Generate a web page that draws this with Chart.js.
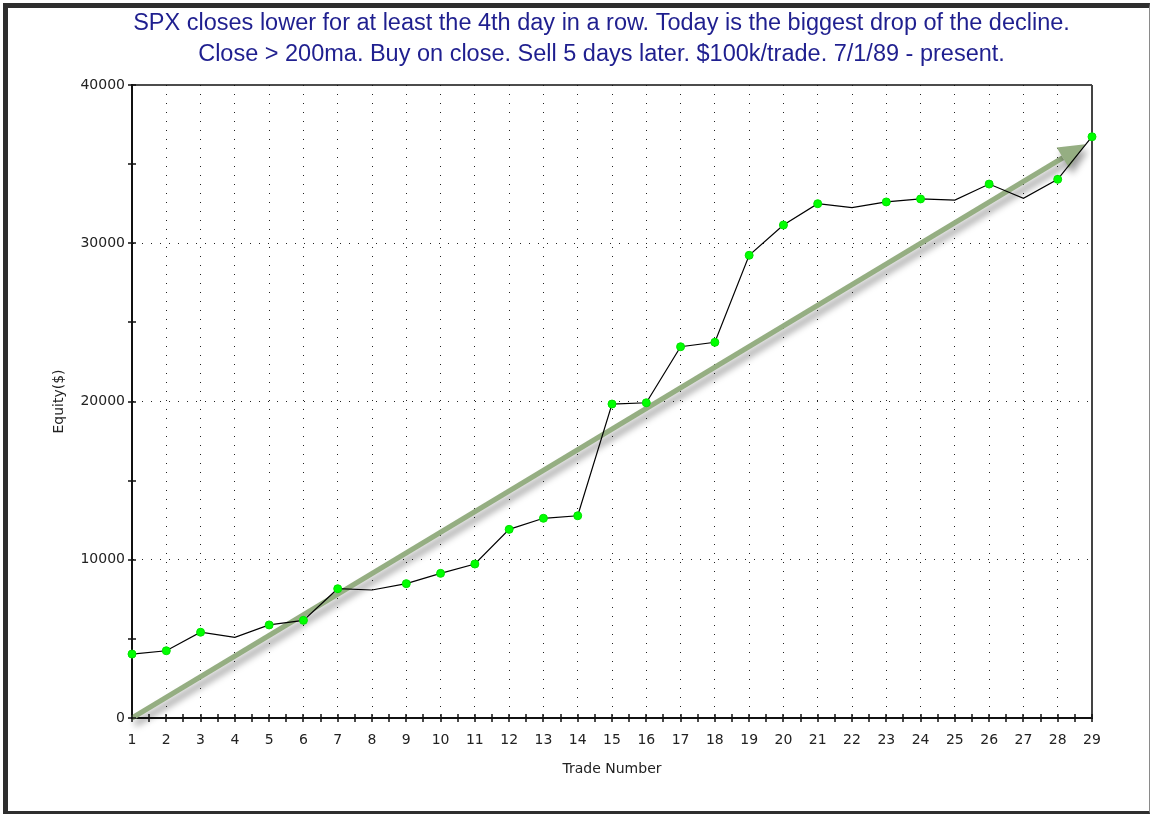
<!DOCTYPE html>
<html>
<head>
<meta charset="utf-8">
<title>SPX equity curve</title>
<script src="https://cdn.jsdelivr.net/npm/chart.js@4.4.1/dist/chart.umd.min.js"></script>
<style>
    html, body { margin: 0; padding: 0; background: #fff; }
    #wrap { position: relative; width: 1151px; height: 814px; overflow: hidden; background: #fff; }
    #chartEquity { position: absolute; left: 0; top: 0; }
    #frame {
        position: absolute; left: 3px; top: 3px; width: 1147px; height: 811px;
        box-sizing: border-box; pointer-events: none;
        border-left: 5px solid #2e2e2e; border-top: 5px solid #2e2e2e;
        border-bottom: 3px solid #2e2e2e; border-right: 1px solid #8a8a8a;
    }
</style>
</head>
<body>
<div id="wrap">
    <canvas id="chartEquity" width="1151" height="814"></canvas>
    <div id="frame"></div>
</div>
<script>
// chart data
var tradeNumbers = [1, 2, 3, 4, 5, 6, 7, 8, 9, 10, 11, 12, 13, 14, 15, 16, 17, 18, 19, 20, 21, 22, 23, 24, 25, 26, 27, 28, 29];
var equity = [4040, 4250, 5420, 5100, 5880, 6170, 8170, 8090, 8490, 9140,
    9730, 11920, 12620, 12780, 19840, 19920, 23460, 23740, 29240, 31150,
    32500, 32250, 32610, 32800, 32730, 33740, 32840, 34040, 36730];
// green trend arrow: start and tip (trade number, equity)
var arrowX = [1, 28.8];
var arrowY = [0, 36250];

var titleLines = [
    'SPX closes lower for at least the 4th day in a row. Today is the biggest drop of the decline.',
    'Close > 200ma. Buy on close. Sell 5 days later. $100k/trade. 7/1/89 - present.'
];

Chart.defaults.font.family = "'DejaVu Sans', Verdana, sans-serif";
Chart.defaults.font.size = 14;
Chart.defaults.color = '#222';

// arrow with a soft shadow, under the equity line
var trendArrow = {
    id: 'trendArrow',
    beforeDatasetsDraw: function (chart) {
        var ctx = chart.ctx;
        var xs = chart.scales.x, ys = chart.scales.y;
        var x0 = xs.getPixelForValue(arrowX[0]), y0 = ys.getPixelForValue(arrowY[0]);
        var x1 = xs.getPixelForValue(arrowX[1]), y1 = ys.getPixelForValue(arrowY[1]);
        var ang = Math.atan2(y1 - y0, x1 - x0);
        var headLen = 26, headW = 12;
        var bx = x1 - headLen * Math.cos(ang), by = y1 - headLen * Math.sin(ang);

        ctx.save();
        ctx.shadowColor = 'rgba(0,0,0,0.4)';
        ctx.shadowBlur = 7;
        ctx.shadowOffsetX = 3;
        ctx.shadowOffsetY = 6;
        ctx.strokeStyle = '#95ae82';
        ctx.fillStyle = '#95ae82';
        ctx.lineWidth = 5;
        ctx.beginPath();
        ctx.moveTo(x0, y0);
        ctx.lineTo(bx, by);
        ctx.stroke();
        ctx.beginPath();
        ctx.moveTo(x1, y1);
        ctx.lineTo(bx + headW * Math.sin(ang), by - headW * Math.cos(ang));
        ctx.lineTo(bx - headW * Math.sin(ang), by + headW * Math.cos(ang));
        ctx.closePath();
        ctx.fill();
        ctx.restore();
    }
};

// top/right frame of the plot and tick marks that cross the axes
var plotFrame = {
    id: 'plotFrame',
    beforeDatasetsDraw: function (chart) {
        var ctx = chart.ctx, a = chart.chartArea;
        var xs = chart.scales.x, ys = chart.scales.y;
        ctx.save();
        ctx.strokeStyle = '#111';
        ctx.lineWidth = 1.5;
        ctx.beginPath();
        ctx.moveTo(a.left, a.top);
        ctx.lineTo(a.right, a.top);
        ctx.stroke();
        ctx.strokeStyle = '#444';
        ctx.lineWidth = 2;
        ctx.beginPath();
        ctx.moveTo(a.right, a.top);
        ctx.lineTo(a.right, a.bottom);
        ctx.stroke();

        ctx.strokeStyle = '#111';
        ctx.lineWidth = 1.5;
        ctx.beginPath();
        xs.ticks.forEach(function (t) {
            var px = Math.round(xs.getPixelForValue(t.value));
            ctx.moveTo(px, a.bottom - 4);
            ctx.lineTo(px, a.bottom + 4);
        });
        ys.ticks.forEach(function (t) {
            var py = Math.round(ys.getPixelForValue(t.value));
            ctx.moveTo(a.left - 4, py);
            ctx.lineTo(a.left + 4, py);
        });
        ctx.stroke();
        ctx.restore();
    }
};

var ctx = document.getElementById('chartEquity').getContext('2d');
var chartEquity = new Chart(ctx, {
    type: 'line',
    data: {
        datasets: [{
            label: 'Equity',
            data: tradeNumbers.map(function (t, i) { return { x: t, y: equity[i] }; }),
            borderColor: '#000',
            borderWidth: 1.2,
            tension: 0,
            clip: false,
            pointBackgroundColor: '#00ff00',
            pointBorderColor: '#00e000',
            pointBorderWidth: 1,
            // dots only on winning trades
            pointRadius: function (c) {
                var i = c.dataIndex;
                var prev = i > 0 ? equity[i - 1] : 0;
                return equity[i] > prev ? 4 : 0;
            },
            pointHoverRadius: 4
        }]
    },
    options: {
        responsive: false,
        animation: false,
        layout: { padding: { left: 52, right: 0, top: 0, bottom: 0 } },
        plugins: {
            legend: { display: false },
            tooltip: { enabled: false },
            title: {
                display: true,
                text: titleLines,
                color: '#1f1f8f',
                font: { family: "'Liberation Sans', Arial, sans-serif", size: 23.5, weight: 'normal', lineHeight: '31px' },
                padding: { top: 8, bottom: 15 }
            }
        },
        scales: {
            x: {
                type: 'linear',
                min: 1,
                max: 29,
                afterFit: function (s) { s.height = 96; },
                ticks: {
                    stepSize: 0.5,
                    autoSkip: false,
                    maxRotation: 0,
                    padding: 14,
                    callback: function (v) { return Number.isInteger(v) ? v : ''; }
                },
                grid: {
                    drawTicks: false,
                    lineWidth: 1,
                    color: function (c) {
                        var v = c.tick ? c.tick.value : 0;
                        return (Number.isInteger(v) && v > 1 && v < 29) ? '#222' : 'rgba(0,0,0,0)';
                    }
                },
                border: { display: true, color: '#111', width: 2, dash: [1, 8] },
                title: {
                    display: true,
                    text: 'Trade Number',
                    color: '#222',
                    font: { size: 14, lineHeight: 1.2 },
                    padding: { top: 0, bottom: 36 }
                }
            },
            y: {
                type: 'linear',
                position: 'left',
                min: 0,
                max: 40000,
                afterFit: function (s) { s.width = 80; },
                ticks: {
                    stepSize: 5000,
                    padding: 7,
                    callback: function (v) { return v % 10000 === 0 ? v : ''; }
                },
                grid: {
                    drawTicks: false,
                    lineWidth: 1,
                    color: function (c) {
                        var v = c.tick ? c.tick.value : 0;
                        return (v % 10000 === 0 && v > 0 && v < 40000) ? '#222' : 'rgba(0,0,0,0)';
                    }
                },
                border: { display: true, color: '#111', width: 2, dash: [1, 8] },
                title: {
                    display: true,
                    text: 'Equity($)',
                    color: '#222',
                    font: { size: 14, lineHeight: 1 },
                    padding: 0
                }
            },
            // empty right-hand box keeps the plot off the right edge
            yRight: {
                type: 'linear',
                position: 'right',
                afterFit: function (s) { s.width = 59; },
                ticks: { display: false },
                grid: { display: false },
                border: { display: false }
            }
        }
    },
    plugins: [trendArrow, plotFrame]
});
</script>
</body>
</html>
